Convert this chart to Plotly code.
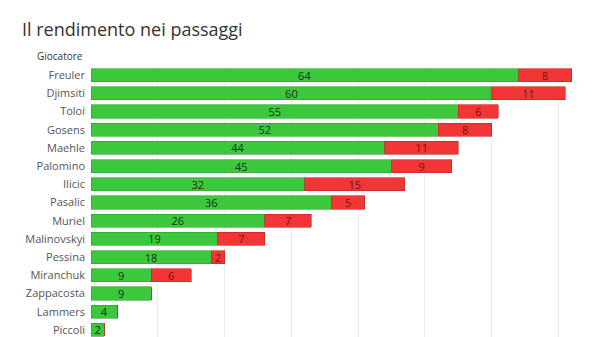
import plotly.graph_objects as go

players = ["Freuler", "Djimsiti", "Toloi", "Gosens", "Maehle", "Palomino", "Ilicic",
           "Pasalic", "Muriel", "Malinovskyi", "Pessina", "Miranchuk", "Zappacosta",
           "Lammers", "Piccoli"]
riusciti = [64, 60, 55, 52, 44, 45, 32, 36, 26, 19, 18, 9, 9, 4, 2]
sbagliati = [8, 11, 6, 8, 11, 9, 15, 5, 7, 7, 2, 6, 0, 0, 0]

fig = go.Figure()
fig.add_trace(go.Bar(
    y=players, x=riusciti, orientation="h", name="Riusciti",
    marker=dict(color="#3CC83C", line=dict(color="#2E9E2E", width=0.6)),
    text=[str(v) for v in riusciti], textposition="inside", insidetextanchor="middle",
    textangle=0, constraintext="none",
    textfont=dict(color="#163016", size=11, family="Open Sans"),
    width=0.72,
))
fig.add_trace(go.Bar(
    y=players, x=sbagliati, orientation="h", name="Sbagliati",
    marker=dict(color="#F23636", line=dict(color="#C42020", width=0.6)),
    text=[str(v) if v else "" for v in sbagliati], textposition="inside",
    insidetextanchor="middle", textangle=0, constraintext="none",
    textfont=dict(color="#7A1010", size=11, family="Open Sans"),
    width=0.72,
))

fig.update_layout(
    width=600, height=337,
    barmode="stack",
    showlegend=False,
    plot_bgcolor="white", paper_bgcolor="white",
    margin=dict(l=91, r=0, t=66, b=0),
    font=dict(family="Open Sans", color="#555"),
    title=dict(text="Il rendimento nei passaggi", x=22 / 600, xanchor="left",
               y=1 - 30 / 337, yanchor="middle",
               font=dict(size=18, color="#333", family="Open Sans")),
    xaxis=dict(range=[0, 76.2], dtick=10, showticklabels=False, showgrid=True,
               gridcolor="#EDEDED", gridwidth=1, zeroline=False, showline=False),
    yaxis=dict(type="category", categoryorder="array", categoryarray=players,
               range=[14.39, -0.5], showgrid=False, zeroline=False,
               tickfont=dict(size=11, color="#555"), ticks="", ticklabelstandoff=5),
    uniformtext=dict(minsize=8, mode="show"),
    annotations=[dict(text="Giocatore", xref="paper", yref="paper", x=0, y=1,
                      xanchor="right", yanchor="bottom", xshift=-6, yshift=1,
                      showarrow=False, font=dict(size=10, color="#333"))],
)

fig.write_html("out.html")
